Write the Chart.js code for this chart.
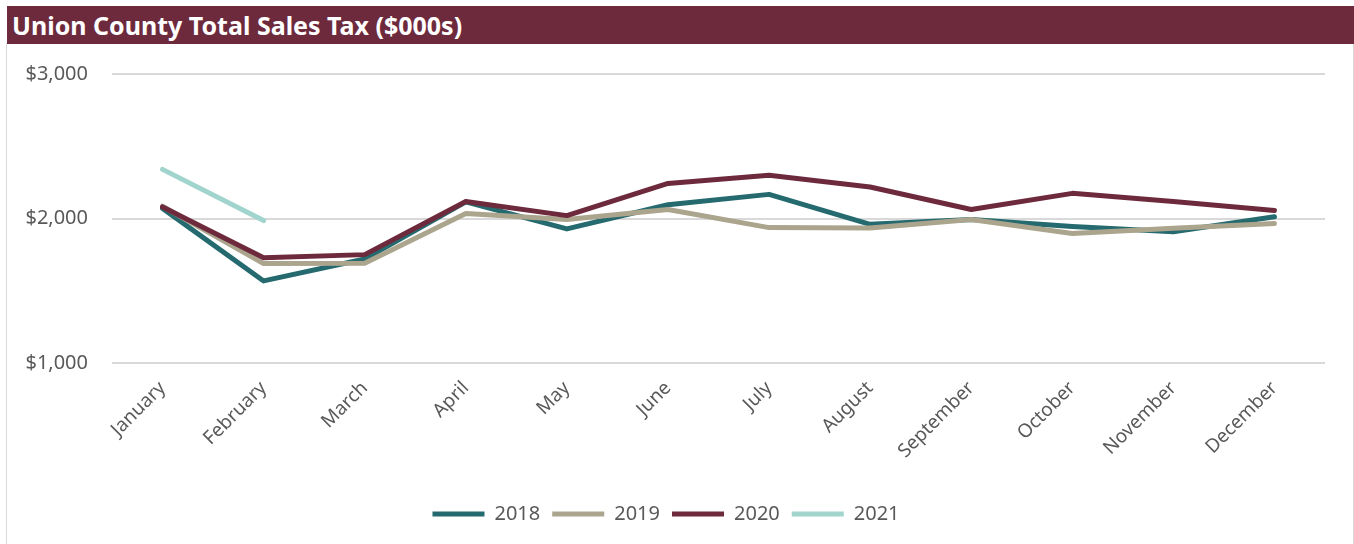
<!DOCTYPE html>
<html>
<head>
<meta charset="utf-8">
<script src="https://cdn.jsdelivr.net/npm/chart.js@4/dist/chart.umd.min.js"></script>
<style>
  body { margin: 0; background: #fff; width: 1354px; height: 544px; overflow: hidden; position: relative; }
  #frame { position: absolute; left: 6px; top: 43px; width: 1346px; height: 510px; border: 1px solid #d9d9d9; }
  #title { position: absolute; left: 7px; top: 6px; width: 1347px; height: 38px; background: #6e2a3d;
           color: #fff; font-family: "Noto Sans", sans-serif; font-weight: bold; font-size: 25px;
           line-height: 38px; padding-left: 5px; box-sizing: border-box; z-index: 2; }
  #wrap { position: absolute; left: 7px; top: 38px; width: 1346px; height: 500px; }
</style>
</head>
<body>
<div id="frame"></div>
<div id="wrap"><canvas id="taxChart"></canvas></div>
<div id="title">Union County Total Sales Tax ($000s)</div>
<script>
// ==========================
// DATA
// ==========================
const months = ['January', 'February', 'March', 'April', 'May', 'June',
                'July', 'August', 'September', 'October', 'November', 'December'];

const sales2018 = [2070, 1568, 1720, 2115, 1928, 2095, 2167, 1960, 1993, 1944, 1908, 2012];
const sales2019 = [2085, 1688, 1690, 2035, 1993, 2062, 1937, 1935, 1993, 1896, 1933, 1966];
const sales2020 = [2080, 1729, 1750, 2118, 2020, 2243, 2299, 2218, 2062, 2174, 2118, 2056];
const sales2021 = [2340, 1986, null, null, null, null, null, null, null, null, null, null];

const yTicks = [1000, 2000, 3000];

const grey = '#595959';
const font = "'Noto Sans', sans-serif";

function series(label, data, color, order) {
    return {
        label: label,
        data: data,
        borderColor: color,
        backgroundColor: color,
        borderWidth: 5,
        borderCapStyle: 'round',
        borderJoinStyle: 'round',
        pointRadius: 0,
        pointHoverRadius: 0,
        tension: 0,
        fill: false,
        order: order
    };
}

// ==========================
// CHART
// ==========================
const ctx = document.getElementById('taxChart').getContext('2d');

const taxChart = new Chart(ctx, {
    type: 'line',
    data: {
        labels: months,
        datasets: [
            series('2018', sales2018, '#256a6e', 4),
            series('2019', sales2019, '#aba58d', 3),
            series('2020', sales2020, '#6e2a3d', 2),
            series('2021', sales2021, '#a1d4cd', 1)
        ]
    },
    options: {
        responsive: true,
        maintainAspectRatio: false,
        animation: false,
        layout: { padding: { top: 0, right: 28, bottom: 4, left: 0 } },
        plugins: {
            tooltip: { enabled: false },
            legend: {
                position: 'bottom',
                labels: {
                    usePointStyle: true,
                    pointStyleWidth: 52,
                    pointStyle: 'line',
                    padding: 12,
                    color: grey,
                    font: { family: font, size: 20 },
                    sort: (a, b) => a.datasetIndex - b.datasetIndex
                }
            }
        },
        scales: {
            x: {
                offset: true,
                grid: { display: false },
                border: { display: false },
                ticks: {
                    color: grey,
                    font: { family: font, size: 19 },
                    maxRotation: 45,
                    minRotation: 45,
                    padding: 6
                },
                afterFit: scale => { scale.height = 129; }
            },
            y: {
                min: 1000,
                max: 3000,
                afterBuildTicks: scale => { scale.ticks = yTicks.map(v => ({ value: v })); },
                grid: { color: '#d9d9d9', lineWidth: 2, drawTicks: false },
                border: { display: false },
                ticks: {
                    color: grey,
                    font: { family: font, size: 20 },
                    padding: 24,
                    callback: v => '$' + v.toLocaleString('en-US')
                },
                afterFit: scale => { scale.width = 105; }
            }
        }
    }
});
</script>
</body>
</html>
